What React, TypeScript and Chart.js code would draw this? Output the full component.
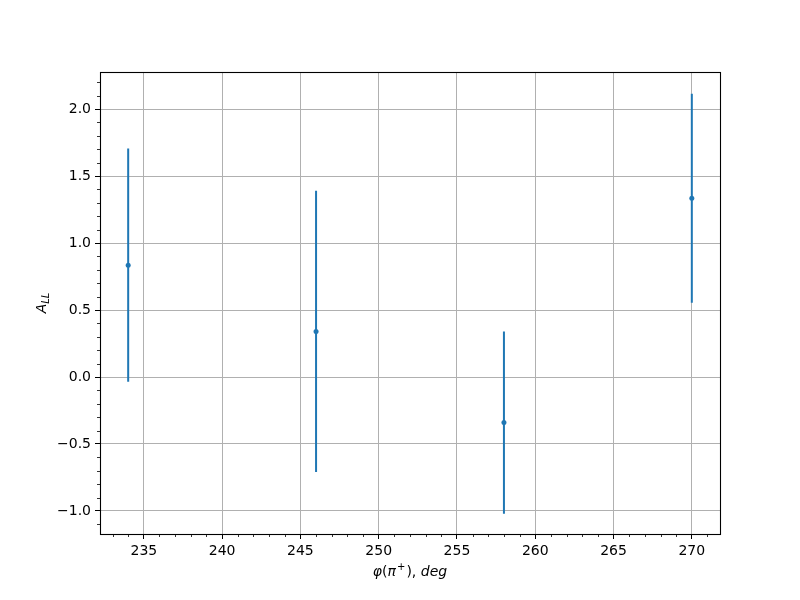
import React, { useEffect, useRef } from "react";
import { Chart, registerables } from "chart.js";

Chart.register(...registerables);

const phiDeg = [234, 246, 258, 270];
const allValues = [0.835, 0.34, -0.34, 1.335];
const allErrors = [0.87, 1.05, 0.68, 0.78];
const xTickValues = [235, 240, 245, 250, 255, 260, 265, 270];
const yTickValues = [-1.0, -0.5, 0.0, 0.5, 1.0, 1.5, 2.0];

const BLUE = "#1f77b4";
const FONT = "'DejaVu Sans', sans-serif";

const fmtY = (v: number) => v.toFixed(1).replace("-", "\u2212");

type Seg = { t: string; f: string; dy: number; gap?: number };

function drawSegs(ctx: CanvasRenderingContext2D, segs: Seg[], cx: number, cy: number) {
  let total = 0;
  segs.forEach((s) => {
    ctx.font = s.f;
    total += ctx.measureText(s.t).width + (s.gap || 0);
  });
  let x = cx - total / 2;
  ctx.textAlign = "left";
  ctx.textBaseline = "middle";
  segs.forEach((s) => {
    ctx.font = s.f;
    ctx.fillText(s.t, x, cy + s.dy);
    x += ctx.measureText(s.t).width + (s.gap || 0);
  });
}

const frame = {
  id: "frame",
  afterDraw(chart: any) {
    const { ctx, chartArea: a, scales } = chart;
    const xs = scales.x;
    const ys = scales.y;
    ctx.save();
    // minor ticks
    ctx.strokeStyle = "#000";
    ctx.lineWidth = 0.8;
    ctx.beginPath();
    for (let v = Math.ceil(xs.min); v <= xs.max; v += 1) {
      if (v % 5 === 0) continue;
      const px = Math.round(xs.getPixelForValue(v)) + 0.5;
      ctx.moveTo(px, a.bottom);
      ctx.lineTo(px, a.bottom + 3);
    }
    for (let i = Math.ceil(ys.min * 10); i <= Math.floor(ys.max * 10); i++) {
      if (i % 5 === 0) continue;
      const py = Math.round(ys.getPixelForValue(i / 10)) + 0.5;
      ctx.moveTo(a.left, py);
      ctx.lineTo(a.left - 3, py);
    }
    ctx.stroke();
    // box
    ctx.lineWidth = 1.1;
    ctx.strokeRect(Math.round(a.left) + 0.5, Math.round(a.top) + 0.5, Math.round(a.right - a.left), Math.round(a.bottom - a.top));
    // x title
    ctx.fillStyle = "#000";
    const it = `italic 14px ${FONT}`;
    const up = `14px ${FONT}`;
    const sup = `10px ${FONT}`;
    drawSegs(
      ctx,
      [
        { t: "\u03c6", f: it, dy: 0 },
        { t: "(", f: up, dy: 0 },
        { t: "\u03c0", f: it, dy: 0, gap: 1 },
        { t: "+", f: sup, dy: -5, gap: 1 },
        { t: ")", f: up, dy: 0 },
        { t: ", ", f: up, dy: 0 },
        { t: "deg", f: it, dy: 0 },
      ],
      (a.left + a.right) / 2,
      572
    );
    // y title
    ctx.translate(42, (a.top + a.bottom) / 2);
    ctx.rotate(-Math.PI / 2);
    ctx.textBaseline = "middle";
    ctx.font = `italic 14px ${FONT}`;
    const wA = ctx.measureText("A").width;
    ctx.font = `italic 10px ${FONT}`;
    const wL = ctx.measureText("LL").width;
    const start = -(wA + wL) / 2;
    ctx.textAlign = "left";
    ctx.font = `italic 14px ${FONT}`;
    ctx.fillText("A", start, 0);
    ctx.font = `italic 10px ${FONT}`;
    ctx.fillText("LL", start + wA, 4);
    ctx.restore();
  },
};

export default function App() {
  const ref = useRef<HTMLCanvasElement>(null);
  useEffect(() => {
    if (!ref.current) return;
    const errData: any[] = [];
    phiDeg.forEach((x, i) => {
      errData.push({ x, y: allValues[i] - allErrors[i] });
      errData.push({ x, y: allValues[i] + allErrors[i] });
      errData.push({ x, y: null });
    });
    const chart = new Chart(ref.current, {
      type: "scatter",
      data: {
        datasets: [
          {
            type: "line",
            data: errData,
            showLine: true,
            spanGaps: false,
            pointRadius: 0,
            borderColor: BLUE,
            borderWidth: 2,
          } as any,
          {
            data: phiDeg.map((x, i) => ({ x, y: allValues[i] })),
            pointRadius: 2.5,
            pointBackgroundColor: BLUE,
            pointBorderColor: BLUE,
            pointBorderWidth: 0,
          },
        ],
      },
      options: {
        animation: false,
        responsive: false,
        layout: { padding: { left: 0, top: 72, right: 80, bottom: 0 } },
        plugins: { legend: { display: false }, tooltip: { enabled: false } },
        scales: {
          x: {
            type: "linear",
            min: 232.2,
            max: 271.8,
            afterBuildTicks: (s: any) => {
              s.ticks = xTickValues.map((v) => ({ value: v }));
            },
            afterFit: (s: any) => {
              s.height = 66;
            },
            grid: { color: "#b0b0b0", lineWidth: 1, drawTicks: true, tickLength: 5, tickColor: "#000", tickWidth: 1 },
            border: { display: false },
            ticks: { color: "#000", font: { family: FONT, size: 14 }, padding: 4, maxRotation: 0, callback: (v: any) => String(v) },
          },
          y: {
            type: "linear",
            min: -1.172,
            max: 2.277,
            afterBuildTicks: (s: any) => {
              s.ticks = yTickValues.map((v) => ({ value: v }));
            },
            afterFit: (s: any) => {
              s.width = 100;
            },
            grid: { color: "#b0b0b0", lineWidth: 1, drawTicks: true, tickLength: 5, tickColor: "#000", tickWidth: 1 },
            border: { display: false },
            ticks: { color: "#000", font: { family: FONT, size: 14 }, padding: 4, callback: (v: any) => fmtY(Number(v)) },
          },
        },
      },
      plugins: [frame],
    });
    return () => chart.destroy();
  }, []);
  return (
    <div style={{ position: "fixed", left: 0, top: 0, width: 800, height: 600, background: "#fff" }}>
      <canvas ref={ref} width={800} height={600} style={{ width: 800, height: 600 }} />
    </div>
  );
}
